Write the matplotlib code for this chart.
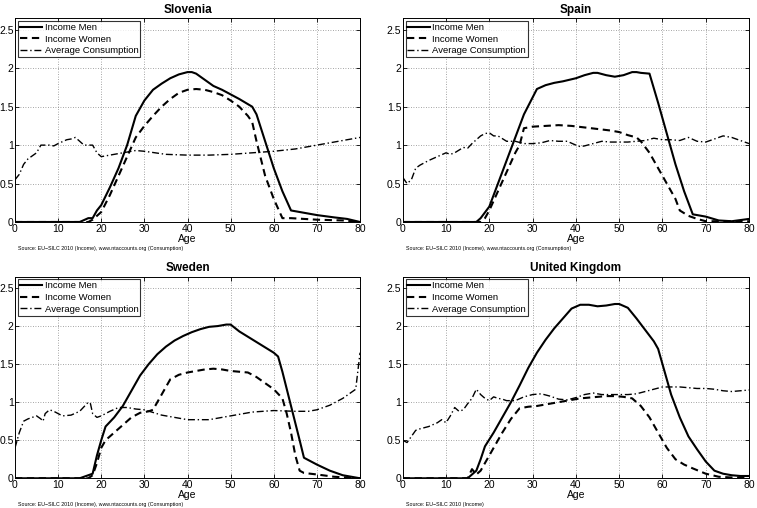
import matplotlib
matplotlib.use("Agg")
import matplotlib.pyplot as plt

plt.rcParams['font.family'] = ['Liberation Sans', 'DejaVu Sans']

countries = ["Slovenia", "Spain", "Sweden", "United Kingdom"]
sources = ["Source: EU\u2212SILC 2010 (Income), www.ntaccounts.org (Consumption)",
           "Source: EU\u2212SILC 2010 (Income), www.ntaccounts.org (Consumption)",
           "Source: EU\u2212SILC 2010 (Income), www.ntaccounts.org (Consumption)",
           "Source: EU\u2212SILC 2010 (Income)"]

# ---- Slovenia ----
si_men_age = [0, 15, 17, 18, 19, 20, 22, 24, 26, 28, 30, 32, 34, 36, 38, 40, 41, 42, 44, 46, 48, 50, 52, 55, 56, 58, 60, 62, 64, 66, 70, 74, 77, 80]
si_men_val = [0, 0, 0.05, 0.05, 0.15, 0.22, 0.45, 0.7, 1.0, 1.38, 1.58, 1.72, 1.8, 1.87, 1.92, 1.95, 1.95, 1.93, 1.85, 1.77, 1.72, 1.66, 1.6, 1.5, 1.4, 1.05, 0.7, 0.4, 0.15, 0.13, 0.09, 0.06, 0.04, 0.0]
si_wom_age = [0, 17, 18, 20, 22, 24, 26, 28, 30, 32, 34, 36, 38, 40, 42, 44, 46, 48, 50, 52, 54, 55, 56, 58, 60, 62, 64, 70, 76, 80]
si_wom_val = [0, 0, 0.03, 0.13, 0.35, 0.6, 0.85, 1.1, 1.25, 1.38, 1.5, 1.6, 1.68, 1.72, 1.73, 1.72, 1.69, 1.65, 1.58, 1.5, 1.38, 1.3, 1.05, 0.6, 0.3, 0.05, 0.05, 0.03, 0.02, 0.0]
si_con_age = [0, 1, 2, 3, 5, 6, 8, 9, 10, 12, 13, 14, 15, 16, 18, 19, 20, 22, 25, 28, 30, 35, 40, 45, 50, 55, 60, 65, 70, 75, 80]
si_con_val = [0.55, 0.62, 0.75, 0.82, 0.9, 1.0, 1.0, 0.99, 1.02, 1.07, 1.08, 1.1, 1.05, 1.0, 1.0, 0.9, 0.85, 0.87, 0.9, 0.93, 0.92, 0.88, 0.87, 0.87, 0.88, 0.9, 0.92, 0.95, 1.0, 1.05, 1.1]

# ---- Spain ----
es_men_age = [0, 17, 18, 20, 22, 24, 26, 28, 30, 31, 33, 35, 37, 40, 42, 44, 45, 47, 49, 51, 53, 54, 55, 57, 59, 61, 63, 65, 67, 70, 73, 76, 80]
es_men_val = [0, 0, 0.05, 0.2, 0.5, 0.8, 1.1, 1.4, 1.62, 1.73, 1.78, 1.81, 1.83, 1.87, 1.91, 1.94, 1.94, 1.91, 1.89, 1.91, 1.95, 1.95, 1.94, 1.93, 1.55, 1.15, 0.75, 0.4, 0.1, 0.07, 0.02, 0.01, 0.04]
es_wom_age = [0, 18, 19, 20, 22, 24, 26, 27, 28, 30, 33, 36, 39, 42, 45, 48, 50, 52, 54, 55, 57, 59, 61, 63, 64, 66, 68, 70, 80]
es_wom_val = [0, 0, 0.05, 0.15, 0.4, 0.65, 0.9, 1.0, 1.22, 1.24, 1.25, 1.26, 1.25, 1.23, 1.21, 1.19, 1.17, 1.13, 1.1, 1.05, 0.9, 0.7, 0.5, 0.3, 0.15, 0.08, 0.04, 0.01, 0.01]
es_con_age = [0, 1, 2, 3, 4, 6, 8, 10, 11, 12, 14, 15, 16, 18, 19, 20, 21, 22, 24, 26, 28, 30, 32, 34, 36, 38, 40, 41, 42, 44, 46, 48, 50, 52, 54, 56, 58, 60, 62, 64, 66, 68, 70, 72, 74, 76, 78, 80]
es_con_val = [0.58, 0.5, 0.55, 0.7, 0.74, 0.8, 0.85, 0.9, 0.88, 0.9, 0.97, 0.96, 1.02, 1.12, 1.15, 1.16, 1.12, 1.12, 1.05, 1.05, 1.02, 1.02, 1.03, 1.06, 1.05, 1.05, 1.0, 0.98, 0.99, 1.02, 1.05, 1.04, 1.04, 1.04, 1.05, 1.06, 1.09, 1.07, 1.07, 1.06, 1.1, 1.05, 1.04, 1.08, 1.12, 1.1, 1.06, 1.02]

# ---- Sweden ----
se_men_age = [0, 15, 17, 18, 19, 20, 21, 23, 25, 27, 29, 31, 33, 35, 37, 39, 41, 43, 45, 47, 49, 50, 52, 54, 56, 58, 60, 61, 62, 64, 66, 67, 70, 73, 76, 80]
se_men_val = [0, 0, 0.04, 0.06, 0.3, 0.5, 0.68, 0.8, 0.95, 1.15, 1.35, 1.5, 1.63, 1.73, 1.81, 1.87, 1.92, 1.96, 1.99, 2.0, 2.02, 2.02, 1.93, 1.86, 1.79, 1.72, 1.65, 1.6, 1.4, 0.95, 0.5, 0.27, 0.18, 0.1, 0.04, 0.0]
se_wom_age = [0, 17, 18, 19, 20, 21, 23, 25, 27, 29, 31, 32, 34, 36, 38, 40, 42, 44, 46, 48, 50, 52, 54, 56, 58, 60, 62, 63, 64, 65, 66, 67, 70, 74, 80]
se_wom_val = [0, 0, 0.04, 0.2, 0.4, 0.5, 0.6, 0.7, 0.8, 0.86, 0.88, 0.9, 1.1, 1.3, 1.36, 1.39, 1.41, 1.43, 1.44, 1.43, 1.41, 1.4, 1.39, 1.33, 1.25, 1.17, 1.05, 0.85, 0.6, 0.3, 0.1, 0.07, 0.05, 0.02, 0.0]
se_con_age = [0, 1, 2, 3, 5, 6, 6.5, 7, 8, 9, 11, 13, 15, 17, 17.5, 18, 19, 20, 22, 24, 26, 28, 30, 34, 37, 40, 45, 50, 55, 60, 65, 68, 70, 73, 76, 79, 80]
se_con_val = [0.4, 0.6, 0.75, 0.78, 0.82, 0.78, 0.75, 0.85, 0.9, 0.88, 0.82, 0.83, 0.88, 1.0, 0.98, 0.85, 0.8, 0.82, 0.88, 0.93, 0.93, 0.91, 0.9, 0.83, 0.8, 0.77, 0.77, 0.82, 0.87, 0.89, 0.88, 0.88, 0.9, 0.96, 1.05, 1.17, 1.65]

# ---- United Kingdom ----
uk_men_age = [0, 15, 16, 17, 18, 19, 21, 23, 25, 27, 29, 31, 33, 35, 37, 39, 41, 43, 45, 47, 49, 50, 52, 54, 56, 58, 59, 60, 62, 64, 66, 68, 70, 72, 74, 76, 78, 80]
uk_men_val = [0, 0, 0.05, 0.1, 0.25, 0.42, 0.6, 0.8, 1.0, 1.22, 1.45, 1.65, 1.82, 1.97, 2.1, 2.23, 2.28, 2.28, 2.26, 2.27, 2.29, 2.29, 2.24, 2.1, 1.95, 1.8, 1.7, 1.5, 1.1, 0.8, 0.55, 0.38, 0.22, 0.1, 0.06, 0.04, 0.03, 0.03]
uk_wom_age = [0, 15, 16, 17, 18, 19, 21, 23, 25, 27, 29, 31, 33, 35, 37, 39, 41, 43, 45, 47, 49, 51, 53, 55, 57, 59, 61, 63, 65, 67, 70, 73, 76, 80]
uk_wom_val = [0, 0, 0.12, 0.05, 0.1, 0.2, 0.4, 0.6, 0.78, 0.92, 0.94, 0.95, 0.97, 0.99, 1.01, 1.03, 1.05, 1.06, 1.07, 1.08, 1.08, 1.07, 1.05, 0.95, 0.8, 0.6, 0.4, 0.25, 0.18, 0.13, 0.06, 0.02, 0.01, 0.01]
uk_con_age = [0, 1, 2, 3, 4, 6, 8, 9, 10, 11, 12, 13, 14, 15, 16, 17, 18, 19, 20, 21, 22, 23, 24, 26, 28, 30, 32, 34, 36, 38, 40, 42, 44, 46, 48, 50, 52, 54, 56, 58, 60, 62, 64, 66, 68, 70, 72, 74, 76, 78, 80]
uk_con_val = [0.5, 0.47, 0.55, 0.63, 0.65, 0.68, 0.73, 0.77, 0.73, 0.82, 0.93, 0.88, 0.9, 0.98, 1.05, 1.17, 1.1, 1.05, 1.02, 1.07, 1.05, 1.04, 1.02, 1.02, 1.07, 1.1, 1.11, 1.08, 1.04, 1.03, 1.06, 1.1, 1.12, 1.1, 1.1, 1.1, 1.1, 1.11, 1.14, 1.17, 1.2, 1.2, 1.2, 1.19, 1.18, 1.18, 1.17, 1.15, 1.14, 1.15, 1.16]

data = [
    (si_men_age, si_men_val, si_wom_age, si_wom_val, si_con_age, si_con_val),
    (es_men_age, es_men_val, es_wom_age, es_wom_val, es_con_age, es_con_val),
    (se_men_age, se_men_val, se_wom_age, se_wom_val, se_con_age, se_con_val),
    (uk_men_age, uk_men_val, uk_wom_age, uk_wom_val, uk_con_age, uk_con_val),
]

xticks = [0, 10, 20, 30, 40, 50, 60, 70, 80]
yticks = [0, 0.5, 1, 1.5, 2, 2.5]
ytick_labels = ["0", "0.5", "1", "1.5", "2", "2.5"]

fig = plt.figure(figsize=(7.57, 5.08), dpi=100)
positions = [
    [0.0198, 0.563, 0.4558, 0.401],
    [0.532, 0.563, 0.4575, 0.401],
    [0.0198, 0.0585, 0.4558, 0.397],
    [0.532, 0.0585, 0.4575, 0.397],
]

for i, (name, src, d, pos) in enumerate(zip(countries, sources, data, positions)):
    ax = fig.add_axes(pos)
    ma, mv, wa, wv, ca, cv = d
    ax.plot(ma, mv, color='black', lw=1.5, ls='-', label='Income Men')
    ax.plot(wa, wv, color='black', lw=1.5, ls=(0, (3.5, 2.2)), label='Income Women')
    ax.plot(ca, cv, color='black', lw=1.0, ls=(0, (5, 2, 1, 2)), label='Average Consumption')
    ax.set_xlim(0, 80)
    ax.set_ylim(0, 2.65)
    ax.set_xticks(xticks)
    ax.set_yticks(yticks)
    ax.set_yticklabels(ytick_labels)
    ax.tick_params(direction='in', labelsize=7.5, length=3, width=0.6, pad=1.5,
                   top=True, right=True)
    ax.tick_params(axis='y', pad=1)
    ax.grid(True, color='#888888', ls=(0, (1, 2)), lw=0.6)
    for s in ax.spines.values():
        s.set_linewidth(0.7)
    ax.set_title(name, fontsize=8.5, fontweight='bold', pad=4)
    ax.set_xlabel('Age', fontsize=7.5, labelpad=0)
    leg = ax.legend(loc='upper left', fontsize=6.8, frameon=True, fancybox=False,
                    edgecolor='black', borderpad=0.2, labelspacing=0.28,
                    handlelength=2.4, handletextpad=0.25, borderaxespad=0.3)
    leg.get_frame().set_linewidth(0.8)
    ax.text(0.01, -0.12, src, transform=ax.transAxes, fontsize=3.8,
            ha='left', va='top')

fig.savefig('out.png', dpi=100)
